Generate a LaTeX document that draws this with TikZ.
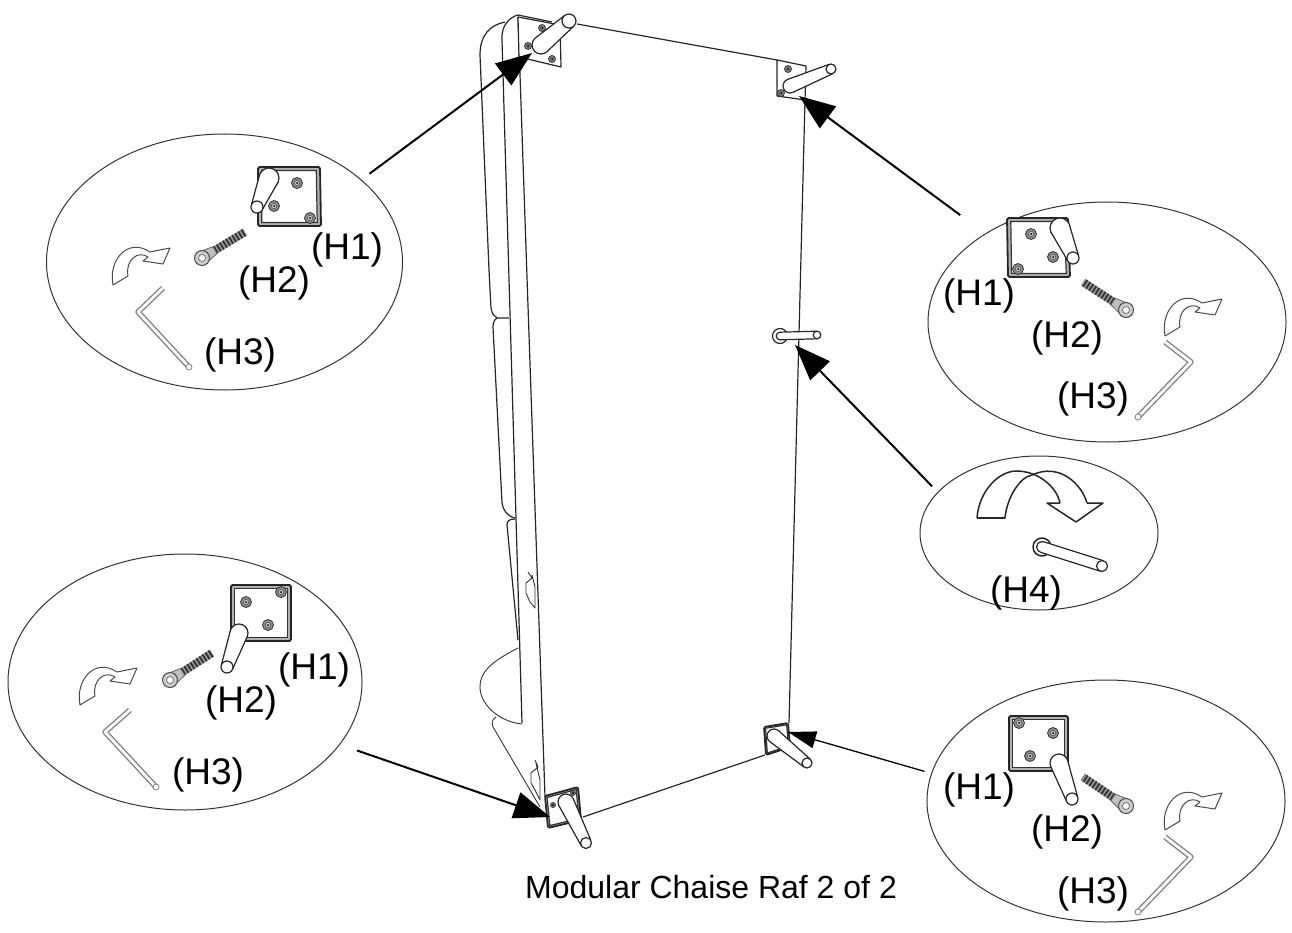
\documentclass[tikz,border=0pt]{standalone}
\usepackage{fontspec}
\setmainfont{Liberation Sans}
\usetikzlibrary{calc, shapes, arrows.meta}
\tikzset{
    calloutnode/.style = {draw, ellipse, black!80, line width=1pt, inner sep = 0em},
    textnode/.style  = {draw=none, fill=none, rectangle, inner sep = 0em, yshift=-3pt, font=\fontsize{37}{37}\selectfont},
    captionnode/.style  = {draw=none, fill=none, rectangle, inner sep = 0em, font=\fontsize{32}{32}\selectfont},
    pointer/.style = {draw, black, line width=2pt, -{Triangle[length=36pt,width=27pt]}},
    smallpointer/.style = {draw, black, line width=1.3pt, -{Triangle[length=28pt,width=17pt]}},
    outline/.style = {draw, black!85, line width=1.2pt, line join=round},
    thinline/.style = {draw, black!80, line width=0.9pt, line join=round},
    turnline/.style = {draw, black!70, line width=1pt, line join=round, fill=white}
}
\newcommand{\drawplate}[4]{
    \draw [outline, fill=black!30, line width=1.8pt, rounded corners=1.5pt] #1 -- #2 -- #3 -- #4 -- cycle;
    \draw [black!80, fill=white, line width=1.2pt] ($#1!0.06!#3$) -- ($#2!0.06!#4$) -- ($#3!0.06!#1$) -- ($#4!0.06!#2$) -- cycle;
}
\newcommand{\drawbolt}[2]{
    \draw [black!80, fill=black!45, line width=0.8pt] #1 circle [radius=#2pt];
    \draw [black!70, fill=black!25, line width=0.5pt] #1 circle [radius=0.5*#2pt];
    \fill [black] #1 circle [radius=1pt];
}
\newcommand{\drawpin}[4]{
    \draw [outline, fill=white] #1 circle [radius=#3pt];
    \fill [white] ($#1!#3pt!90:#2$) -- ($#2!#4pt!-90:#1$) -- ($#2!#4pt!90:#1$) -- ($#1!#3pt!-90:#2$) -- cycle;
    \draw [outline] ($#1!#3pt!90:#2$) -- ($#2!#4pt!-90:#1$);
    \draw [outline] ($#1!#3pt!-90:#2$) -- ($#2!#4pt!90:#1$);
    \draw [outline, fill=white] #2 circle [radius=#4pt];
}
\newcommand{\drawkey}[3]{
    \draw [black!50, line width=5.5pt, line join=round] #1 -- #2 -- #3;
    \draw [white, line width=2.8pt, line join=round] #1 -- #2 -- #3;
    \draw [black!50, fill=white, line width=0.8pt] #3 circle [radius=3pt];
}
\newcommand{\drawscrew}[2]{
    \coordinate (thread) at ($#1!0.3!#2$);
    \draw [black!40, line width=8pt] (thread) -- #2;
    \draw [black!80, line width=8pt, dash pattern=on 1.8pt off 1.8pt] (thread) -- #2;
    \draw [black!60, fill=black!25, line width=0.8pt] ($#1!7pt!90:#2$) -- ($(thread)!4pt!-90:#1$) -- ($(thread)!4pt!90:#1$) -- ($#1!7pt!-90:#2$) -- cycle;
    \draw [black!70, fill=black!20, line width=1pt] #1 circle [radius=7.5pt];
    \draw [black!60, fill=white, line width=0.7pt] #1 circle [radius=3.5pt];
}
\newcommand{\drawturn}[1]{
    \draw [turnline, shift={#1}] (0,0) .. controls (-5,-25) and (15,-48) .. (37,-33)
        -- (57,-37) -- (50,-21) -- (30,-24) -- (35,-28) .. controls (25,-35) and (12,-25) .. (15,-9) -- cycle;
}
\begin{document}
\begin{tikzpicture}[x=1pt, y=-1pt]
    \useasboundingbox (0,0) rectangle (1292,933);

    % chaise
    \draw [outline] (505,22) .. controls (490,25) and (480,35) .. (480,55) -- (489,270) -- (491,308) .. controls (492,314) and (494,316) .. (497,318) -- (509,318);
    \draw [outline] (497,318) .. controls (494,320) and (493,323) .. (493,327) -- (502,503) .. controls (503,510) and (507,516) .. (515,518);
    \draw [outline] (515,519) .. controls (509,519) and (507,521) .. (507,525) -- (518,640);
    \draw [outline] (552,22) -- (518,15) .. controls (510,17) and (501,25) .. (502,40) -- (522,723);
    \draw [outline] (518,17) -- (545,797);
    \draw [thinline] (518,648) .. controls (495,660) and (480,670) .. (480,687) .. controls (480,705) and (500,722) .. (522,724);
    \draw [thinline] (496,717) .. controls (491,720) and (492,724) .. (493,727) -- (540,807);
    \draw [thinline] (528,572) -- (532,578) -- (526,583) -- (526,593) -- (530,602) -- (535,608) -- (535,587) -- (532,575);
    \draw [thinline] (535,760) -- (538,767) -- (531,773) -- (531,783) -- (535,790) -- (540,800) -- (540,780) -- (536,763);
    \draw [outline] (577,24) -- (777,60);
    \draw [outline] (805,100) -- (789,723);
    \draw [outline] (583,817) -- (765,755);

    % legs on the chaise
    \draw [outline, fill=white] (518,17) -- (560,25) -- (561,67) -- (519,57) -- cycle;
    \drawbolt{(528,46)}{3.5} \drawbolt{(542,28)}{3.5} \drawbolt{(552,59)}{3.5}
    \drawpin{(541,45)}{(569,21)}{9}{7}
    \draw [outline, fill=white] (777,60) -- (806,66) -- (805,100) -- (777,96) -- cycle;
    \drawbolt{(788,69)}{3.5} \drawbolt{(781,93)}{3.5}
    \drawpin{(790,86)}{(831,69)}{7}{5}
    \drawplate{(545,796)}{(578,787)}{(581,820)}{(548,828)}
    \drawbolt{(553,805)}{2.5} \drawbolt{(573,793)}{2.5}
    \drawpin{(566,802)}{(586,843)}{8}{5.5}
    \drawplate{(764,727)}{(788,723)}{(790,747)}{(766,755)}
    \drawpin{(774,736)}{(807,763)}{7}{5}
    \draw [outline, fill=white] (780,336) circle [radius=7.5pt];
    \drawpin{(780,336)}{(817,335)}{3.8}{3.8}

    % callouts
    \node [name=e1, calloutnode, minimum width=356pt, minimum height=256pt] at (224.5,262) {};
    \node [name=e2, calloutnode, minimum width=358pt, minimum height=240pt] at (1107,322) {};
    \node [name=e3, calloutnode, minimum width=238pt, minimum height=154pt] at (1039,533) {};
    \node [name=e4, calloutnode, minimum width=354pt, minimum height=256pt] at (185,682) {};
    \node [name=e5, calloutnode, minimum width=358pt, minimum height=242pt] at (1106,801) {};

    \coordinate (tipa) at (532,53);
    \coordinate (tipb) at (799,96);
    \coordinate (tipc) at (795,345);
    \coordinate (tipd) at (550,817);
    \coordinate (tipe) at (788,732);

    \draw [pointer, shorten <=10pt] (e1.31) -- (tipa);
    \draw [pointer, shorten <=31pt] (e2.144) -- (tipb);
    \draw [pointer, shorten <=8pt] (e3.158) -- (tipc);
    \draw [pointer, shorten <=18pt] (e4.338) -- (tipd);
    \draw [smallpointer, shorten <=7pt] (e5.171) -- (tipe);

    % top left
    \drawplate{(258,167)}{(320,167)}{(321,226)}{(258,226)}
    \drawbolt{(297,183)}{5.5} \drawbolt{(274,206)}{5.5} \drawbolt{(310,218)}{5.5}
    \drawpin{(269,178)}{(257,207)}{10}{6}
    \drawscrew{(202,258)}{(245,232)}
    \drawturn{(113,285)}
    \drawkey{(163,288)}{(138,312)}{(189,367)}
    \node [name=e1h1, textnode] at (347,247) {(H1)};
    \node [name=e1h2, textnode] at (274,280) {(H2)};
    \node [name=e1h3, textnode] at (240,352) {(H3)};

    % top right
    \drawplate{(1007,218)}{(1068,218)}{(1070,277)}{(1008,277)}
    \drawbolt{(1031,234)}{5.5} \drawbolt{(1053,257)}{5.5} \drawbolt{(1018,269)}{5.5}
    \drawpin{(1060,228)}{(1073,258)}{10}{6}
    \drawscrew{(1126,310)}{(1083,282)}
    \drawturn{(1165,336)}
    \drawkey{(1165,342)}{(1191,362)}{(1138,417)}
    \node [name=e2h1, textnode] at (979,293) {(H1)};
    \node [name=e2h2, textnode] at (1067,335) {(H2)};
    \node [name=e2h3, textnode] at (1093,396) {(H3)};

    % middle right
    \draw [outline, line width=1.5pt] (1060,503) -- (1047,503) -- (1076,522) -- (1103,503) -- (1087,503);
    \draw [outline, line width=1.5pt] (977,518) -- (1005,518);
    \draw [outline, line width=1.5pt] (977,518) .. controls (979,490) and (1000,470) .. (1018,471) .. controls (1040,472) and (1057,488) .. (1060,503);
    \draw [outline, line width=1.5pt] (1005,518) .. controls (1007,497) and (1020,477) .. (1032,475) .. controls (1060,462) and (1082,485) .. (1087,503);
    \draw [outline, line width=1.5pt, fill=white] (1042,547) circle [radius=9pt];
    \drawpin{(1042,547)}{(1102,566)}{5.5}{5.5}
    \node [name=e3h4, textnode] at (1026,590) {(H4)};

    % bottom left
    \drawplate{(231,585)}{(291,585)}{(291,641)}{(231,641)}
    \drawbolt{(246,602)}{5.5} \drawbolt{(281,592)}{5.5} \drawbolt{(268,625)}{5.5}
    \drawpin{(239,633)}{(227,667)}{9}{6}
    \drawscrew{(170,680)}{(212,653)}
    \drawturn{(80,705)}
    \drawkey{(130,710)}{(105,732)}{(156,787)}
    \node [name=e4h1, textnode] at (314,667) {(H1)};
    \node [name=e4h2, textnode] at (241,700) {(H2)};
    \node [name=e4h3, textnode] at (208,772) {(H3)};

    % bottom right
    \drawplate{(1009,716)}{(1068,716)}{(1068,771)}{(1009,771)}
    \drawbolt{(1019,723)}{5.5} \drawbolt{(1053,733)}{5.5} \drawbolt{(1030,756)}{5.5}
    \drawpin{(1059,763)}{(1072,799)}{9}{6}
    \drawscrew{(1126,806)}{(1083,777)}
    \drawturn{(1165,830)}
    \drawkey{(1165,837)}{(1191,857)}{(1138,912)}
    \node [name=e5h1, textnode] at (979,787) {(H1)};
    \node [name=e5h2, textnode] at (1067,829) {(H2)};
    \node [name=e5h3, textnode] at (1093,891) {(H3)};

    \node [name=caption, captionnode] at (711,887) {Modular Chaise Raf 2 of 2};
\end{tikzpicture}
\end{document}
